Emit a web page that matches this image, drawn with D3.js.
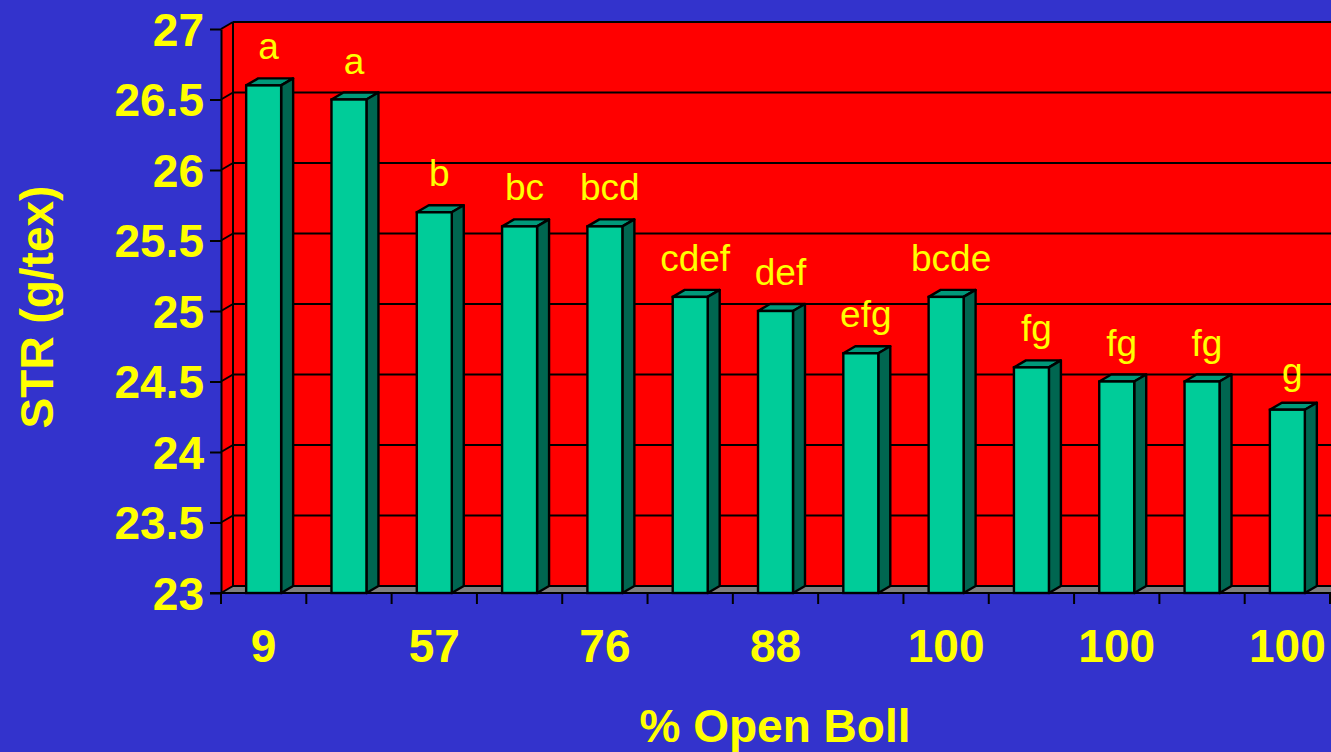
<!DOCTYPE html>
<html>
<head>
<meta charset="utf-8">
<script src="https://cdn.jsdelivr.net/npm/d3@7/dist/d3.min.js"></script>
<style>
  html, body { margin: 0; padding: 0; background: #3333CC; }
  svg { display: block; }
</style>
</head>
<body>
<svg id="chart" width="1331" height="752"></svg>
<script>
// Fibre strength by harvest timing
const strength = [26.6, 26.5, 25.7, 25.6, 25.6, 25.1, 25.0, 24.7, 25.1, 24.6, 24.5, 24.5, 24.3];
const groupLetters = ["a", "a", "b", "bc", "bcd", "cdef", "def", "efg", "bcde", "fg", "fg", "fg", "g"];
// Category labels; only every other category is labelled on the axis
const openBoll = ["9", "", "57", "", "76", "", "88", "", "100", "", "100", "", "100"];
const yTicks = [23, 23.5, 24, 24.5, 25, 25.5, 26, 26.5, 27];

const W = 1331, H = 752;
const plotLeft = 221, plotRight = 1330, plotBottom = 593, plotTop = 29;
const dx = 12, dy = -7;   // depth offset of the 3D box

const svg = d3.select("#chart");
const font = "'Liberation Sans', Arial, Helvetica, sans-serif";
const yellow = "#FFFF00";

const y = d3.scaleLinear().domain([23, 27]).range([plotBottom, plotTop]);
const x = d3.scaleBand().domain(d3.range(strength.length)).range([plotLeft, plotRight]).padding(0);
const barW = x.bandwidth() * 0.41;

svg.append("rect").attr("width", W).attr("height", H).attr("fill", "#3333CC");

// Floor
svg.append("path")
  .attr("d", `M${plotLeft},${plotBottom} L${plotLeft + dx},${plotBottom + dy} L${W + 5},${plotBottom + dy} L${W + 5},${plotBottom} Z`)
  .attr("fill", "#808080");

// Back wall
svg.append("rect")
  .attr("x", plotLeft + dx).attr("y", y(27) + dy)
  .attr("width", W + 5 - (plotLeft + dx)).attr("height", y(23) - y(27))
  .attr("fill", "#FF0000");

// Side wall
svg.append("path")
  .attr("d", `M${plotLeft},${y(27)} L${plotLeft + dx},${y(27) + dy} L${plotLeft + dx},${y(23) + dy} L${plotLeft},${y(23)} Z`)
  .attr("fill", "#FF0000");

// Gridlines on back and side walls
const grid = svg.append("g").attr("stroke", "#000").attr("stroke-width", 2).attr("fill", "none");
yTicks.forEach(v => {
  grid.append("line")
    .attr("x1", plotLeft + dx).attr("x2", W + 5)
    .attr("y1", y(v) + dy).attr("y2", y(v) + dy);
  grid.append("line")
    .attr("x1", plotLeft).attr("y1", y(v))
    .attr("x2", plotLeft + dx).attr("y2", y(v) + dy);
});
grid.append("line")
  .attr("x1", plotLeft + dx).attr("x2", plotLeft + dx)
  .attr("y1", y(27) + dy).attr("y2", y(23) + dy);

// Y axis
const yAxis = svg.append("g")
  .attr("transform", `translate(${plotLeft},0)`)
  .call(d3.axisLeft(y).tickValues(yTicks).tickFormat(d3.format("")).tickSize(11).tickSizeOuter(0).tickPadding(6));
yAxis.select(".domain").attr("stroke", "#000").attr("stroke-width", 2);
yAxis.selectAll(".tick line").attr("stroke", "#000").attr("stroke-width", 2);
yAxis.selectAll(".tick text")
  .attr("fill", yellow).attr("font-family", font).attr("font-weight", "bold")
  .attr("font-size", 46).attr("dy", "0.35em");

// X axis line and category boundary ticks
const xg = svg.append("g").attr("stroke", "#000").attr("stroke-width", 2);
xg.append("line").attr("x1", plotLeft - 11).attr("x2", W + 5).attr("y1", plotBottom).attr("y2", plotBottom);
d3.range(strength.length + 1).forEach(i => {
  const px = i < strength.length ? x(i) : plotRight;
  xg.append("line").attr("x1", px).attr("x2", px).attr("y1", plotBottom).attr("y2", plotBottom + 11);
});

// Bars
const bars = svg.append("g").selectAll("g").data(strength).join("g");
const bx = (d, i) => x(i) + (x.bandwidth() - barW) / 2;
bars.append("path")   // top face
  .attr("d", (d, i) => {
    const x0 = bx(d, i), y0 = y(d);
    return `M${x0},${y0} L${x0 + dx},${y0 + dy} L${x0 + barW + dx},${y0 + dy} L${x0 + barW},${y0} Z`;
  })
  .attr("fill", "#00997A").attr("stroke", "#000").attr("stroke-width", 2.4).attr("stroke-linejoin", "round");
bars.append("path")   // side face
  .attr("d", (d, i) => {
    const x0 = bx(d, i) + barW, y0 = y(d);
    return `M${x0},${y0} L${x0 + dx},${y0 + dy} L${x0 + dx},${plotBottom + dy} L${x0},${plotBottom} Z`;
  })
  .attr("fill", "#006650").attr("stroke", "#000").attr("stroke-width", 2.4).attr("stroke-linejoin", "round");
bars.append("rect")   // front face
  .attr("x", bx).attr("y", d => y(d))
  .attr("width", barW).attr("height", d => plotBottom - y(d))
  .attr("fill", "#00CC99").attr("stroke", "#000").attr("stroke-width", 2.4);

// Significance letters
svg.append("g").selectAll("text").data(strength).join("text")
  .attr("x", (d, i) => x(i) + x.bandwidth() / 2 + 5)
  .attr("y", d => y(d) - 26)
  .attr("text-anchor", "middle")
  .attr("fill", yellow).attr("font-family", font).attr("font-size", 37)
  .text((d, i) => groupLetters[i]);

// Category labels
svg.append("g").selectAll("text").data(openBoll).join("text")
  .attr("x", (d, i) => x(i) + x.bandwidth() / 2)
  .attr("y", 662)
  .attr("text-anchor", "middle")
  .attr("fill", yellow).attr("font-family", font).attr("font-weight", "bold").attr("font-size", 46)
  .text(d => d);

// Axis titles
svg.append("text")
  .attr("x", 775).attr("y", 742)
  .attr("text-anchor", "middle")
  .attr("fill", yellow).attr("font-family", font).attr("font-weight", "bold").attr("font-size", 46)
  .text("% Open Boll");

svg.append("text")
  .attr("transform", "translate(53,307) rotate(-90)")
  .attr("text-anchor", "middle")
  .attr("fill", yellow).attr("font-family", font).attr("font-weight", "bold").attr("font-size", 46)
  .text("STR (g/tex)");
</script>
</body>
</html>
